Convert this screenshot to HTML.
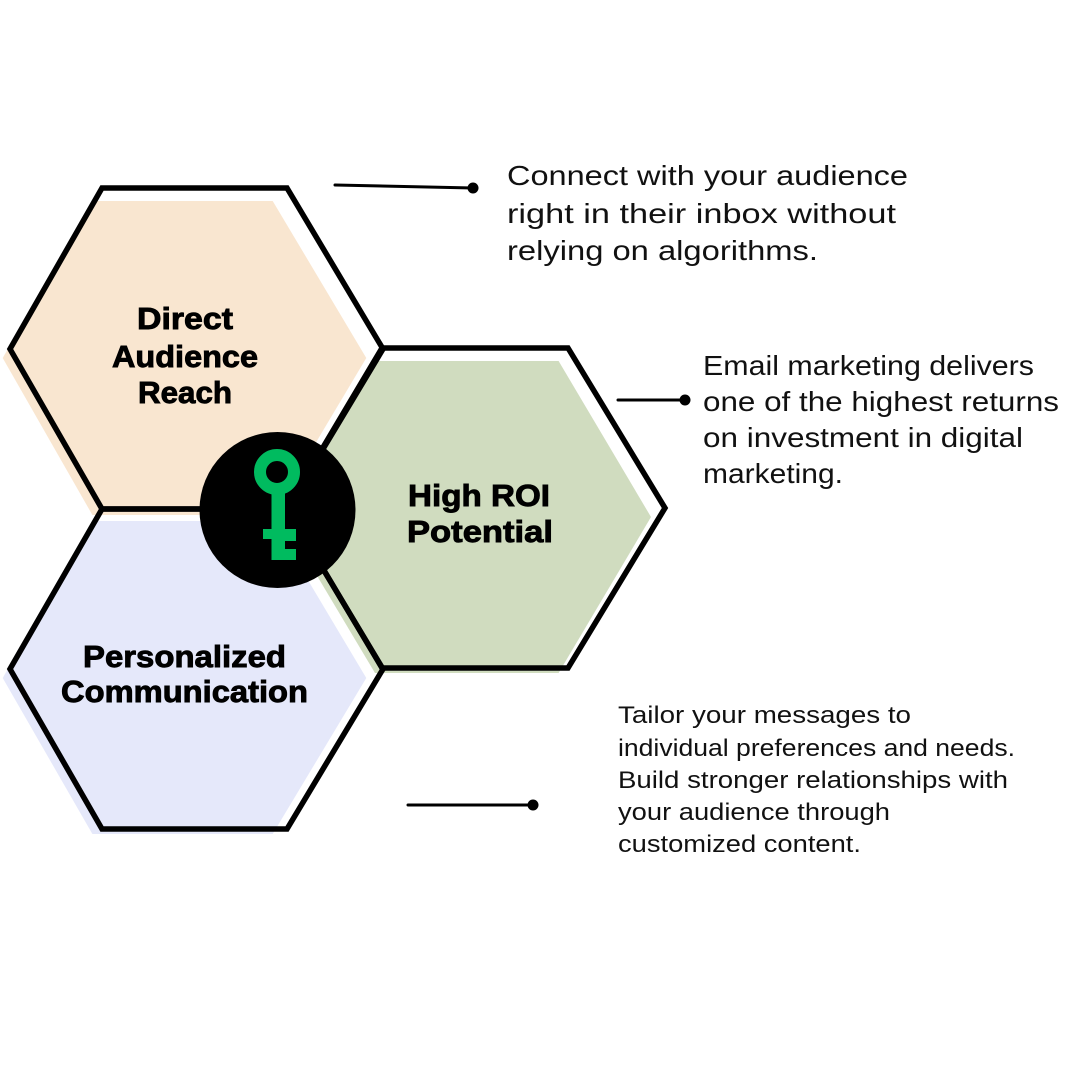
<!DOCTYPE html>
<html>
<head>
<meta charset="utf-8">
<style>
  html, body { margin:0; padding:0; background:#ffffff; }
  svg { display:block; }
  .h { font-family:"Liberation Sans", sans-serif; font-weight:bold; font-size:31px; fill:#000; stroke:#000; stroke-width:0.9px; }
  .b1 { font-family:"Liberation Sans", sans-serif; font-size:28px; fill:#111; }
  .b3 { font-family:"Liberation Sans", sans-serif; font-size:24px; fill:#111; }
</style>
</head>
<body>
<svg width="1080" height="1080" viewBox="0 0 1080 1080" xmlns="http://www.w3.org/2000/svg">
  <rect x="0" y="0" width="1080" height="1080" fill="#ffffff"/>

  <!-- fills -->
  <polygon points="2.7,358 92.4,201 272.7,201 366.3,358 272.7,515 92.4,515" fill="#F9E6D0"/>
  <polygon points="282,517 375,361 558.6,361 651,517 558.6,673 375,673" fill="#D0DCBF"/>
  <polygon points="2.7,678 92.4,521 272.7,521 366.3,678 272.7,834 92.4,834" fill="#E5E8FA"/>

  <!-- outlines -->
  <g fill="none" stroke="#000" stroke-width="5.5" stroke-linejoin="miter">
    <polygon points="10,349 102,188 287,188 383,349 287,509 102,509"/>
    <polygon points="287,508 382,348 568,348 665,508 568,668 382,668"/>
    <polygon points="10,669 102,509 287,509 383,669 287,829 102,829"/>
  </g>

  <!-- center circle with key -->
  <circle cx="277.5" cy="510" r="78" fill="#000"/>
  <g fill="#00BB5F">
    <circle cx="277" cy="472" r="17" fill="none" stroke="#00BB5F" stroke-width="12"/>
    <rect x="271.5" y="488" width="13.5" height="72"/>
    <rect x="263" y="529" width="9" height="10"/>
    <rect x="284" y="529" width="12" height="12"/>
    <rect x="284" y="549" width="12" height="11"/>
  </g>

  <!-- headings -->
  <text class="h" x="137" y="329" textLength="96" lengthAdjust="spacingAndGlyphs">Direct</text>
  <text class="h" x="112" y="367" textLength="146" lengthAdjust="spacingAndGlyphs">Audience</text>
  <text class="h" x="138" y="403" textLength="94" lengthAdjust="spacingAndGlyphs">Reach</text>

  <text class="h" x="408" y="506" textLength="142" lengthAdjust="spacingAndGlyphs">High ROI</text>
  <text class="h" x="407" y="542" textLength="146" lengthAdjust="spacingAndGlyphs">Potential</text>

  <text class="h" x="83" y="667" textLength="203" lengthAdjust="spacingAndGlyphs">Personalized</text>
  <text class="h" x="61" y="702" textLength="247" lengthAdjust="spacingAndGlyphs">Communication</text>

  <!-- connectors -->
  <g stroke="#000" stroke-width="3" stroke-linecap="round">
    <line x1="335" y1="185" x2="473" y2="188"/>
    <line x1="618" y1="400" x2="685" y2="400"/>
    <line x1="408" y1="805" x2="533" y2="805"/>
  </g>
  <g fill="#000">
    <circle cx="473" cy="188" r="5.5"/>
    <circle cx="685" cy="400" r="5.5"/>
    <circle cx="533" cy="805" r="5.5"/>
  </g>

  <!-- body text 1 -->
  <text class="b1" x="507" y="185" textLength="401" lengthAdjust="spacingAndGlyphs">Connect with your audience</text>
  <text class="b1" x="507" y="223" textLength="389" lengthAdjust="spacingAndGlyphs">right in their inbox without</text>
  <text class="b1" x="507" y="260" textLength="311" lengthAdjust="spacingAndGlyphs">relying on algorithms.</text>

  <!-- body text 2 -->
  <text class="b1" x="703" y="375" textLength="331" lengthAdjust="spacingAndGlyphs">Email marketing delivers</text>
  <text class="b1" x="703" y="411" textLength="356" lengthAdjust="spacingAndGlyphs">one of the highest returns</text>
  <text class="b1" x="703" y="447" textLength="320" lengthAdjust="spacingAndGlyphs">on investment in digital</text>
  <text class="b1" x="703" y="483" textLength="140" lengthAdjust="spacingAndGlyphs">marketing.</text>

  <!-- body text 3 -->
  <text class="b3" x="618" y="723" textLength="293" lengthAdjust="spacingAndGlyphs">Tailor your messages to</text>
  <text class="b3" x="618" y="756" textLength="397" lengthAdjust="spacingAndGlyphs">individual preferences and needs.</text>
  <text class="b3" x="618" y="788" textLength="390" lengthAdjust="spacingAndGlyphs">Build stronger relationships with</text>
  <text class="b3" x="618" y="820" textLength="272" lengthAdjust="spacingAndGlyphs">your audience through</text>
  <text class="b3" x="618" y="852" textLength="243" lengthAdjust="spacingAndGlyphs">customized content.</text>
</svg>
</body>
</html>
